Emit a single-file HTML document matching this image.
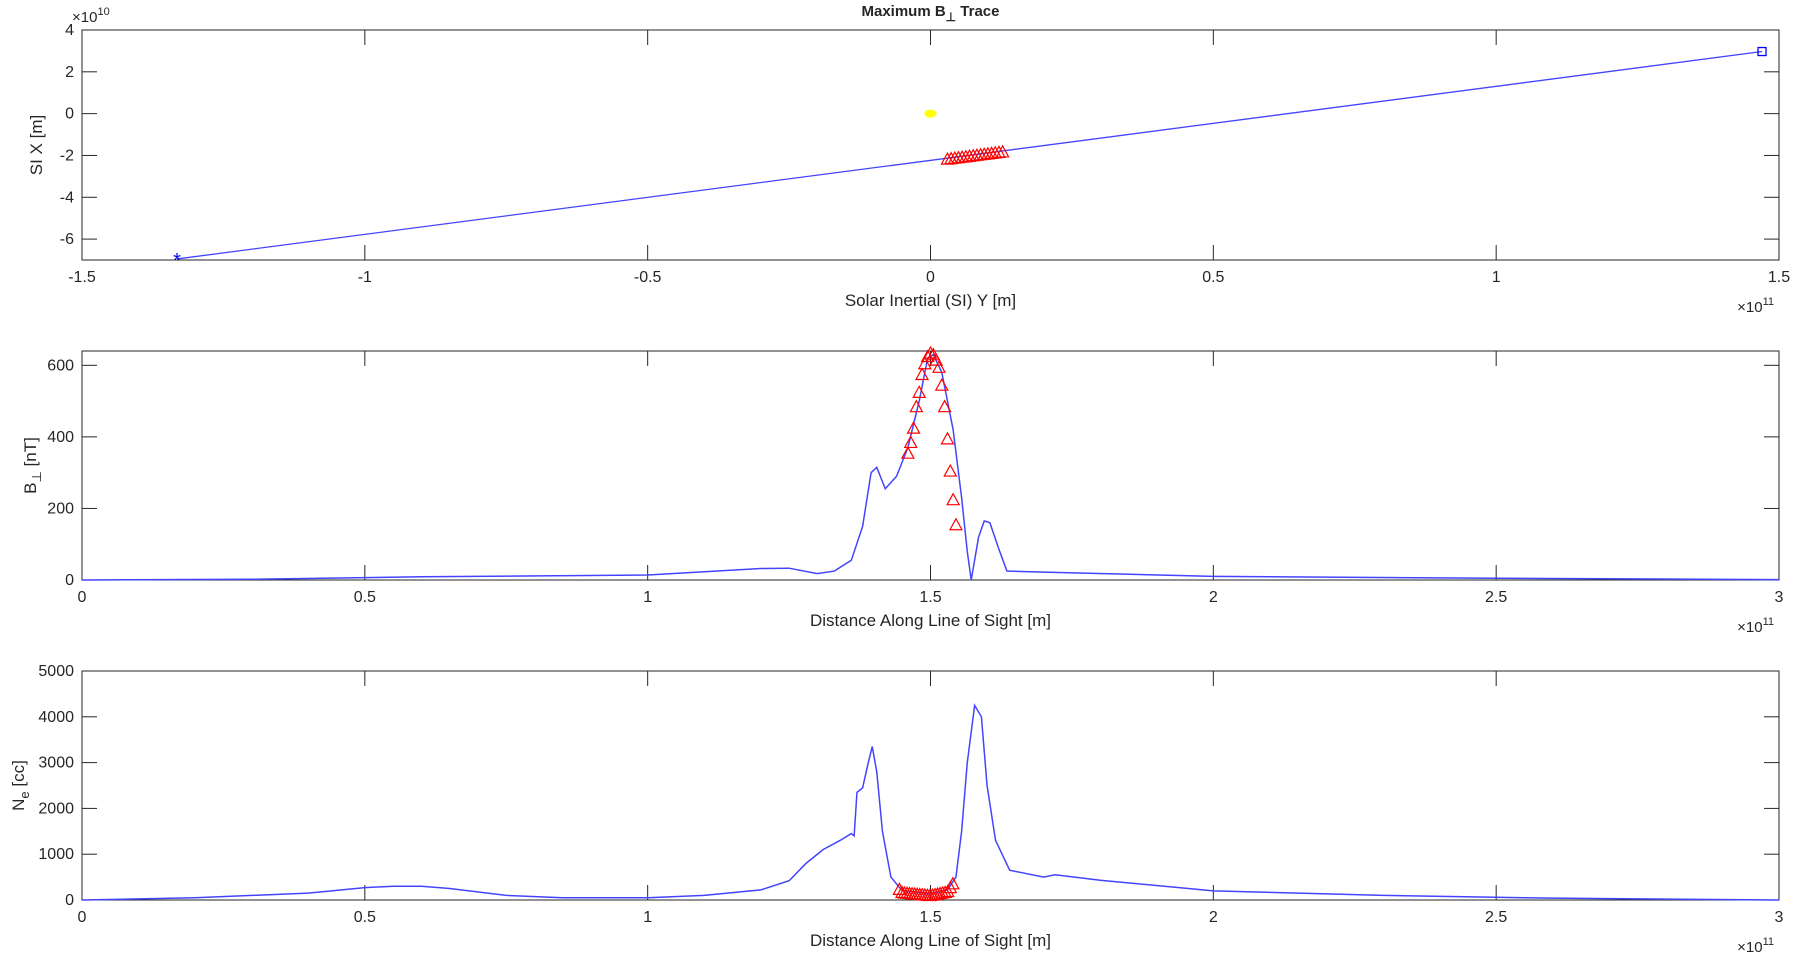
<!DOCTYPE html>
<html><head><meta charset="utf-8"><style>
html,body{margin:0;padding:0;background:#fff;}
svg text{font-family:"Liberation Sans",sans-serif;fill:#262626;}
</style></head><body>
<svg id="s" width="1793" height="958" xmlns="http://www.w3.org/2000/svg"></svg>
<script>
const S=document.getElementById('s');let h='';
const L=82,R=1779;
function ax(top,bot,x0,x1,y0,y1,xt,yt,xl,yl,xexp,yexp,ylx){
  const X=v=>L+(v-x0)/(x1-x0)*(R-L), Y=v=>bot-(v-y0)/(y1-y0)*(bot-top);
  h+=`<rect x="${L}" y="${top}" width="${R-L}" height="${bot-top}" fill="none" stroke="#262626" stroke-width="1"/>`;
  xt.forEach(t=>{const x=X(t[0]);h+=`<line x1="${x}" y1="${bot}" x2="${x}" y2="${bot-15}" stroke="#262626"/><line x1="${x}" y1="${top}" x2="${x}" y2="${top+15}" stroke="#262626"/><text x="${x}" y="${bot+22}" font-size="16" text-anchor="middle">${t[1]}</text>`;});
  yt.forEach(t=>{const y=Y(t[0]);h+=`<line x1="${L}" y1="${y}" x2="${L+15}" y2="${y}" stroke="#262626"/><line x1="${R}" y1="${y}" x2="${R-15}" y2="${y}" stroke="#262626"/><text x="${L-8}" y="${y+5}" font-size="16" text-anchor="end">${t[1]}</text>`;});
  h+=`<text x="${(L+R)/2}" y="${bot+46}" font-size="17" text-anchor="middle">${xl}</text>`;
  h+=`<text transform="translate(${ylx},${(top+bot)/2}) rotate(-90)" font-size="17" text-anchor="middle">${yl}</text>`;
  if(xexp)h+=`<text x="${R-5}" y="${bot+52}" font-size="15" text-anchor="end">×10<tspan dy="-7" font-size="11">${xexp}</tspan></text>`;
  if(yexp)h+=`<text x="${L-10}" y="${top-8}" font-size="15">×10<tspan dy="-7" font-size="11">${yexp}</tspan></text>`;
  return [X,Y];
}
function tri(x,y){return `<polygon points="${x},${y-6} ${x-6},${y+5} ${x+6},${y+5}" fill="none" stroke="#f00" stroke-width="1.2"/>`;}
function interp(pts,x){for(let i=1;i<pts.length;i++){if(x<=pts[i][0]){const a=pts[i-1],b=pts[i];return a[1]+(b[1]-a[1])*(x-a[0])/(b[0]-a[0]);}}return pts[pts.length-1][1];}
// Plot 1
h+=`<text x="${(L+R)/2}" y="16" font-size="15" font-weight="bold" text-anchor="middle">Maximum B<tspan dy="5" font-size="12">⊥</tspan><tspan dy="-5"> Trace</tspan></text>`;
let [X,Y]=ax(30,260,-1.5,1.5,-7,4,[[-1.5,'-1.5'],[-1,'-1'],[-0.5,'-0.5'],[0,'0'],[0.5,'0.5'],[1,'1'],[1.5,'1.5']],[[-6,'-6'],[-4,'-4'],[-2,'-2'],[0,'0'],[2,'2'],[4,'4']],'Solar Inertial (SI) Y [m]','SI X [m]','11','10',42);
const ax0=-1.332,ay0=-6.95,ax1=1.47,ay1=2.97;
h+=`<line x1="${X(ax0)}" y1="${Y(ay0)}" x2="${X(ax1)}" y2="${Y(ay1)}" stroke="#44f" stroke-width="1.3"/>`;
h+=`<text x="${X(ax0)}" y="${Y(ay0)+8}" font-size="20" style="fill:#00f" text-anchor="middle">*</text>`;
h+=`<rect x="${X(ax1)-4}" y="${Y(ay1)-4}" width="8" height="8" fill="none" stroke="#00f" stroke-width="1.3"/>`;
h+=`<ellipse cx="${X(0)}" cy="${Y(0)}" rx="6" ry="4" fill="#ff0"/>`;
for(let i=0;i<16;i++){const xv=0.03+i*0.0065;const yv=ay0+(ay1-ay0)*(xv-ax0)/(ax1-ax0);h+=tri(X(xv),Y(yv)+1);}
// Plot 2
[X,Y]=ax(351,580,0,3,0,640,[[0,'0'],[0.5,'0.5'],[1,'1'],[1.5,'1.5'],[2,'2'],[2.5,'2.5'],[3,'3']],[[0,'0'],[200,'200'],[400,'400'],[600,'600']],'Distance Along Line of Sight [m]','B<tspan dy="5" font-size="13">⊥</tspan><tspan dy="-5"> [nT]</tspan>','11',null,36);
const b=[[0,0],[0.3,2],[0.6,9],[1.0,14],[1.2,32],[1.25,33],[1.3,18],[1.33,25],[1.36,55],[1.38,150],[1.395,300],[1.405,315],[1.42,255],[1.44,290],[1.46,370],[1.48,500],[1.495,620],[1.505,630],[1.52,580],[1.54,420],[1.555,230],[1.565,80],[1.572,0],[1.585,120],[1.595,165],[1.605,160],[1.62,90],[1.635,25],[1.7,22],[2.0,10],[2.5,5],[3,1]];
h+=`<polyline fill="none" stroke="#44f" stroke-width="1.5" points="${b.map(p=>X(p[0])+','+Y(p[1])).join(' ')}"/>`;
[[1.46,360],[1.465,390],[1.47,430],[1.475,490],[1.48,530],[1.485,580],[1.49,610],[1.495,630],[1.5,640],[1.505,635],[1.51,620],[1.515,600],[1.52,550],[1.525,490],[1.53,400],[1.535,310],[1.54,230],[1.545,160]].forEach(p=>{h+=tri(X(p[0]),Y(p[1])+2);});
// Plot 3
[X,Y]=ax(671,900,0,3,0,5000,[[0,'0'],[0.5,'0.5'],[1,'1'],[1.5,'1.5'],[2,'2'],[2.5,'2.5'],[3,'3']],[[0,'0'],[1000,'1000'],[2000,'2000'],[3000,'3000'],[4000,'4000'],[5000,'5000']],'Distance Along Line of Sight [m]','N<tspan dy="5" font-size="13">e</tspan><tspan dy="-5"> [cc]</tspan>','11',null,24);
const n=[[0,0],[0.2,50],[0.4,150],[0.5,270],[0.55,300],[0.6,300],[0.65,250],[0.75,100],[0.85,50],[1.0,50],[1.1,100],[1.2,220],[1.25,420],[1.28,800],[1.31,1100],[1.34,1300],[1.36,1450],[1.365,1400],[1.37,2350],[1.38,2450],[1.39,3000],[1.397,3350],[1.405,2800],[1.415,1500],[1.43,500],[1.45,200],[1.5,140],[1.53,220],[1.545,500],[1.555,1500],[1.565,3000],[1.578,4250],[1.59,4000],[1.6,2500],[1.615,1300],[1.64,650],[1.7,500],[1.72,550],[1.8,430],[2.0,200],[2.3,100],[2.6,40],[3,0]];
h+=`<polyline fill="none" stroke="#44f" stroke-width="1.5" points="${n.map(p=>X(p[0])+','+Y(p[1])).join(' ')}"/>`;
for(let i=0;i<22;i++){const xv=1.445+i*0.0045;let yv=interp(n,xv);h+=tri(X(xv),Y(yv)+2);}
S.innerHTML=h;
</script>
</body></html>
